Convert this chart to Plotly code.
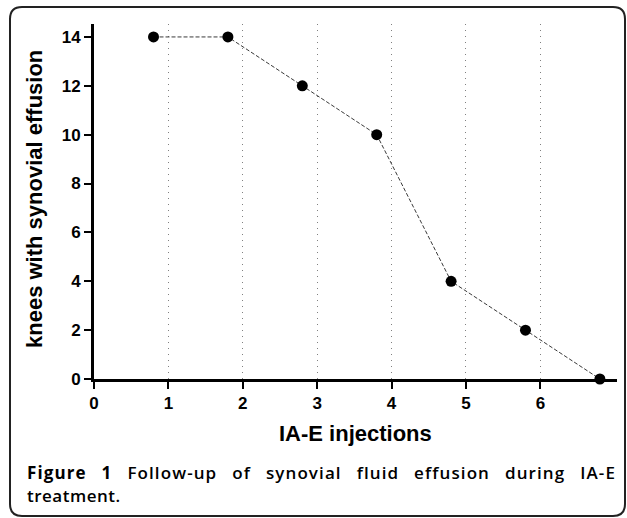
import plotly.graph_objects as go

# data
injections = [0.8, 1.8, 2.8, 3.8, 4.8, 5.8, 6.8]
knees = [14, 14, 12, 10, 4, 2, 0]
x_ticks = [0, 1, 2, 3, 4, 5, 6]
y_ticks = [0, 2, 4, 6, 8, 10, 12, 14]
x_title = "IA-E injections"
y_title = "knees with synovial effusion"
caption_bold = "Figure 1"
caption_rest1 = "Follow-up of synovial fluid effusion during IA-E"
caption_rest2 = "treatment."

W, H = 627, 518
L, R, T, B = 94, 10, 24, 139
PW, PH = W - L - R, H - T - B


def px(X):
    return (X - L) / PW


def py(Y):
    return (H - B - Y) / PH


fig = go.Figure()
fig.add_trace(go.Scatter(
    x=injections, y=knees, mode="lines+markers",
    line=dict(color="#3a3a3a", width=1, dash="4px,2px"),
    marker=dict(color="black", size=11),
    cliponaxis=False, showlegend=False,
))

axis_font = dict(family="Liberation Sans, Arial", size=17, color="black", weight="bold")
fig.update_xaxes(
    range=[0, 7.03], tickvals=x_ticks, ticktext=[str(v) for v in x_ticks],
    showline=True, linewidth=3, linecolor="black",
    ticks="outside", ticklen=7, tickwidth=2, tickcolor="black",
    showgrid=True, gridcolor="#808080", griddash="1px,5px", gridwidth=1,
    zeroline=False, tickfont=axis_font,
)
fig.update_yaxes(
    range=[0, 14.53], tickvals=y_ticks, ticktext=[str(v) for v in y_ticks],
    showline=True, linewidth=3, linecolor="black",
    ticks="outside", ticklen=7, tickwidth=2, tickcolor="black",
    showgrid=False, zeroline=False, tickfont=axis_font,
)

# rounded border
x0, y0, x1, y1, r = 10, 7, 625, 516, 12
path = (
    f"M {px(x0 + r)},{py(y0)} L {px(x1 - r)},{py(y0)} "
    f"Q {px(x1)},{py(y0)} {px(x1)},{py(y0 + r)} "
    f"L {px(x1)},{py(y1 - r)} Q {px(x1)},{py(y1)} {px(x1 - r)},{py(y1)} "
    f"L {px(x0 + r)},{py(y1)} Q {px(x0)},{py(y1)} {px(x0)},{py(y1 - r)} "
    f"L {px(x0)},{py(y0 + r)} Q {px(x0)},{py(y0)} {px(x0 + r)},{py(y0)} Z"
)
fig.add_shape(type="path", path=path, xref="paper", yref="paper",
              line=dict(color="#222222", width=2), layer="above")

title_font = dict(family="Liberation Sans, Arial", size=22, color="black", weight="bold")
fig.add_annotation(
    text=x_title, xref="paper", yref="paper", x=px(355), y=py(433),
    showarrow=False, xanchor="center", yanchor="middle", font=title_font,
)
fig.add_annotation(
    text=y_title, xref="paper", yref="paper", x=px(34), y=py(199),
    showarrow=False, xanchor="center", yanchor="middle", textangle=-90,
    font=title_font,
)

cap_font = dict(family="Open Sans", size=17, color="black", weight=600)
fig.add_annotation(
    text=f"<b>{caption_bold}</b> {caption_rest1}", xref="paper", yref="paper",
    x=px(27), y=py(472), showarrow=False, xanchor="left", yanchor="middle",
    font=cap_font,
)
fig.add_annotation(
    text=caption_rest2, xref="paper", yref="paper", x=px(27), y=py(495),
    showarrow=False, xanchor="left", yanchor="middle", font=cap_font,
)

fig.update_layout(
    width=W, height=H, margin=dict(l=L, r=R, t=T, b=B),
    paper_bgcolor="white", plot_bgcolor="white",
)

post = """
document.body.style.margin = '0';
var gd = document.getElementById('{plot_id}');
var spec = {'2': [589, '1.1px'], '3': [null, '0.5px']};
gd.querySelectorAll('g.annotation').forEach(function (g) {
  var i = g.getAttribute('data-index');
  if (!(i in spec)) return;
  var t = g.querySelector('text');
  t.style.letterSpacing = spec[i][1];
  var want = spec[i][0];
  if (want) {
    var w0 = t.getBoundingClientRect().width;
    var n = (t.textContent.match(/ /g) || []).length;
    if (n > 0) t.style.wordSpacing = ((want - w0) / n) + 'px';
  }
  var left = t.getBoundingClientRect().left;
  t.setAttribute('transform', 'translate(' + (27 - left) + ',0)');
});
"""
fig.write_html("out.html", post_script=post, config={"displayModeBar": False})
